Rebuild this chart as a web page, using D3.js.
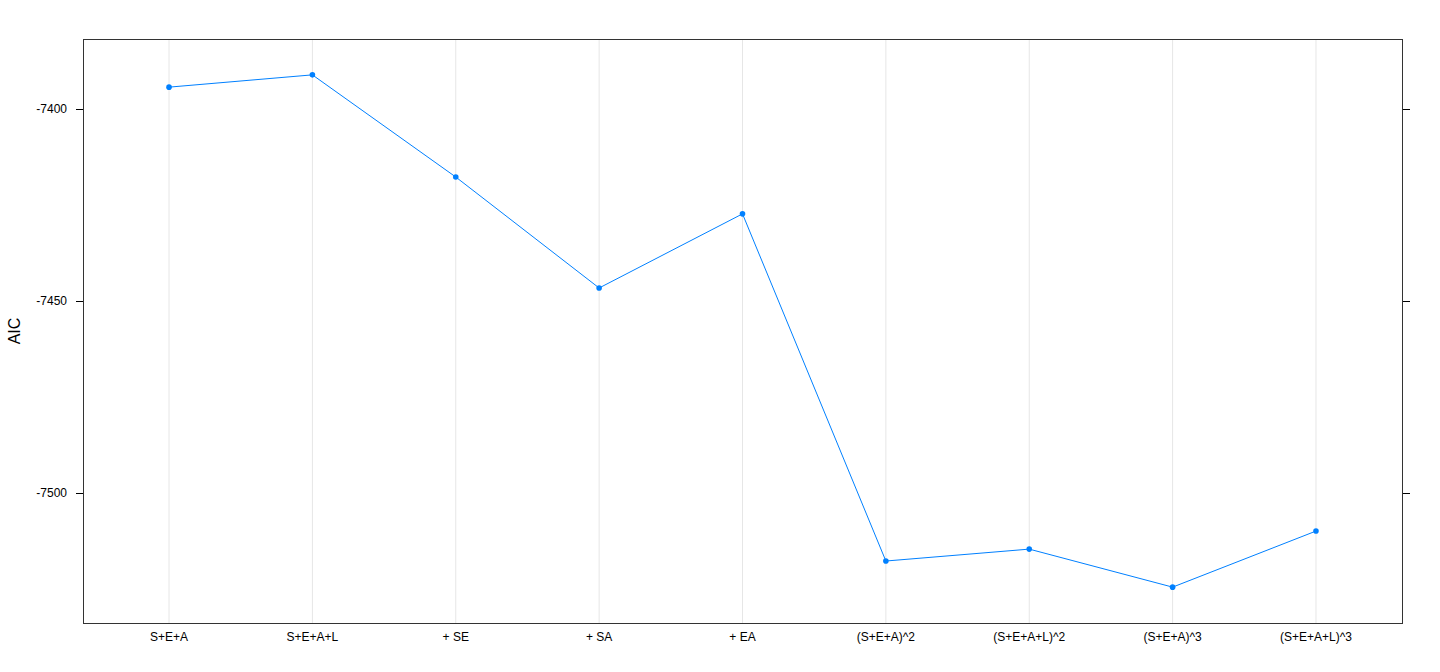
<!DOCTYPE html>
<html lang="en">
<head>
  <meta charset="UTF-8">
  <title>AIC by model</title>
  <style>
    body { margin: 0; background: #fff; font-family: "Liberation Sans", Arial, sans-serif; }
    svg { display: block; }
    .tick-label { font-size: 12px; fill: #000; }
  </style>
</head>
<body>
  <svg id="chart" width="1440" height="672"></svg>
  <script src="https://d3js.org/d3.v7.min.js"></script>
  <script>
    // Models and their AIC values
    const models = ["S+E+A", "S+E+A+L", "+ SE", "+ SA", "+ EA",
                    "(S+E+A)^2", "(S+E+A+L)^2", "(S+E+A)^3", "(S+E+A+L)^3"];
    const aic = [-7394.3, -7391.1, -7417.7, -7446.6, -7427.3,
                 -7517.7, -7514.6, -7524.5, -7509.9];
    const yTicks = [-7400, -7450, -7500];

    const svg = d3.select("#chart");
    const panel = { left: 83, right: 1402, top: 39, bottom: 623 };

    const x = d3.scaleLinear()
      .domain([0.4, models.length + 0.6])
      .range([panel.left, panel.right]);

    // lattice-style 7% padding on the data range
    const lo = d3.min(aic), hi = d3.max(aic);
    const pad = (hi - lo) * 0.07;
    const y = d3.scaleLinear()
      .domain([lo - pad, hi + pad])
      .range([panel.bottom, panel.top]);

    // vertical reference lines
    svg.append("g")
      .selectAll("line")
      .data(models)
      .join("line")
        .attr("x1", (d, i) => x(i + 1))
        .attr("x2", (d, i) => x(i + 1))
        .attr("y1", panel.top)
        .attr("y2", panel.bottom)
        .attr("stroke", "#e6e6e6")
        .attr("stroke-width", 1);

    // line + points
    const line = d3.line()
      .x((d, i) => x(i + 1))
      .y(d => y(d));

    svg.append("path")
      .datum(aic)
      .attr("d", line)
      .attr("fill", "none")
      .attr("stroke", "#0080ff")
      .attr("stroke-width", 1);

    svg.append("g")
      .selectAll("circle")
      .data(aic)
      .join("circle")
        .attr("cx", (d, i) => x(i + 1))
        .attr("cy", d => y(d))
        .attr("r", 2.8)
        .attr("fill", "#0080ff");

    // panel border
    svg.append("rect")
      .attr("x", panel.left + 0.5)
      .attr("y", panel.top + 0.5)
      .attr("width", panel.right - panel.left)
      .attr("height", panel.bottom - panel.top)
      .attr("fill", "none")
      .attr("stroke", "#333")
      .attr("stroke-width", 1);

    // left axis: ticks + labels
    const left = svg.append("g").attr("transform", `translate(${panel.left},0)`);
    left.selectAll("line")
      .data(yTicks)
      .join("line")
        .attr("x1", -7).attr("x2", 0)
        .attr("y1", d => Math.round(y(d)) + 0.5)
        .attr("y2", d => Math.round(y(d)) + 0.5)
        .attr("stroke", "#000");
    left.selectAll("text")
      .data(yTicks)
      .join("text")
        .attr("class", "tick-label")
        .attr("x", -16)
        .attr("y", d => y(d))
        .attr("dy", "0.35em")
        .attr("text-anchor", "end")
        .text(d => d);

    // right axis: ticks only
    svg.append("g")
      .attr("transform", `translate(${panel.right + 1},0)`)
      .selectAll("line")
      .data(yTicks)
      .join("line")
        .attr("x1", 0).attr("x2", 7)
        .attr("y1", d => Math.round(y(d)) + 0.5)
        .attr("y2", d => Math.round(y(d)) + 0.5)
        .attr("stroke", "#000");

    // x labels
    svg.append("g")
      .selectAll("text")
      .data(models)
      .join("text")
        .attr("class", "tick-label")
        .attr("x", (d, i) => x(i + 1))
        .attr("y", panel.bottom + 18)
        .attr("text-anchor", "middle")
        .text(d => d);

    // y title
    svg.append("text")
      .attr("transform", `translate(20,${(panel.top + panel.bottom) / 2}) rotate(-90)`)
      .attr("text-anchor", "middle")
      .attr("font-size", 16)
      .text("AIC");
  </script>
</body>
</html>
